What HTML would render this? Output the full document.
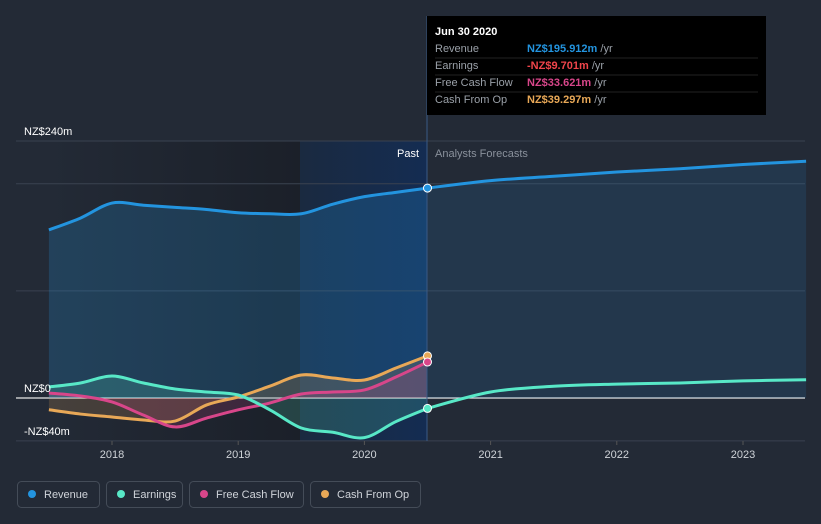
<!DOCTYPE html>
<html><head><meta charset="utf-8"><style>
html,body{margin:0;padding:0;background:#232a36;width:821px;height:524px;overflow:hidden;font-family:"Liberation Sans",sans-serif}
svg{position:absolute;left:0;top:0}
</style></head><body>
<svg width="821" height="524">
<defs>
<linearGradient id="pastBg" x1="0" x2="1" y1="0" y2="0"><stop offset="0" stop-color="#232a36"/><stop offset="1" stop-color="#1b2029"/></linearGradient>
<linearGradient id="hl" x1="0" x2="1"><stop offset="0" stop-color="#1a2a40"/><stop offset="1" stop-color="#142c52"/></linearGradient>
</defs>
<rect x="48" y="141" width="252" height="300" fill="url(#pastBg)"/>
<rect x="300" y="141" width="127" height="300" fill="url(#hl)"/>
<g id="grid"></g>
<g id="areas"></g>
<g id="lines"></g>
<line x1="427" x2="427" y1="16" y2="441" stroke="#3a5a86" stroke-width="1"/>
<text x="419" y="157" fill="#fff" font-size="11" text-anchor="end">Past</text>
<text x="435" y="157" fill="#8a919c" font-size="11">Analysts Forecasts</text>
<g id="ylab"></g><g id="xlab"></g><g id="dots"></g>
<g>
<rect x="427" y="16" width="339" height="99" fill="#000"/>
<text x="435" y="35" fill="#fff" font-size="11" font-weight="bold">Jun 30 2020</text>
<text x="435" y="52" fill="#9aa0a8" font-size="11">Revenue</text><text x="527" y="52" font-size="11" fill="#2394df" font-weight="bold">NZ$195.912m <tspan fill="#9aa0a8" font-weight="normal">/yr</tspan></text>
<line x1="435" x2="758" y1="58" y2="58" stroke="#222"/>
<text x="435" y="69" fill="#9aa0a8" font-size="11">Earnings</text><text x="527" y="69" font-size="11" fill="#f0454b" font-weight="bold">-NZ$9.701m <tspan fill="#9aa0a8" font-weight="normal">/yr</tspan></text>
<line x1="435" x2="758" y1="75" y2="75" stroke="#222"/>
<text x="435" y="86" fill="#9aa0a8" font-size="11">Free Cash Flow</text><text x="527" y="86" font-size="11" fill="#d8468a" font-weight="bold">NZ$33.621m <tspan fill="#9aa0a8" font-weight="normal">/yr</tspan></text>
<line x1="435" x2="758" y1="92" y2="92" stroke="#222"/>
<text x="435" y="103" fill="#9aa0a8" font-size="11">Cash From Op</text><text x="527" y="103" font-size="11" fill="#e8a857" font-weight="bold">NZ$39.297m <tspan fill="#9aa0a8" font-weight="normal">/yr</tspan></text>
</g>
<g id="legend"></g>
</svg>
<script>
const pastX=[2017.5,2017.75,2018,2018.25,2018.5,2018.75,2019,2019.25,2019.5,2019.75,2020,2020.25,2020.5];
const revenue=[157,168,182,180,178,176,173,172,172,181,188,192,196];
const earnings=[10.3,14,20.5,14,8.4,5.6,2.8,-11,-28,-32,-37,-22,-9.7];
const fcf=[4.7,1.9,-3.7,-16,-27,-18.7,-11,-4.7,3.7,5.6,7.5,19.6,33.6];
const cfo=[-11,-15,-17.7,-20.5,-21.5,-6.5,1,11,21.5,18.7,16.8,28,39.3];
const fcX=[2020.5,2021,2021.5,2022,2022.5,2023,2023.5];
const revenueFc=[196,203,207,211,214,218,221];
const earningsFc=[-9.7,5.6,11,13,14,16,17];
const yTicks=[240,0,-40];const yTickLabels=["NZ$240m","NZ$0","-NZ$40m"];
const gridVals=[240,200,100,0,-40];
const xTicks=[2018,2019,2020,2021,2022,2023];
const X=v=>112+(v-2018)*126.2, Y=v=>398-v*1.071;
const NS="http://www.w3.org/2000/svg";
function el(t,a,p){const e=document.createElementNS(NS,t);for(const k in a)e.setAttribute(k,a[k]);document.getElementById(p).appendChild(e);return e;}
function path(xs,ys){const P=xs.map((x,i)=>[X(x),Y(ys[i])]);let d="M"+P[0];for(let i=0;i<P.length-1;i++){const p0=P[i-1]||P[i],p1=P[i],p2=P[i+1],p3=P[i+2]||p2;const c1=[p1[0]+(p2[0]-p0[0])/6,p1[1]+(p2[1]-p0[1])/6],c2=[p2[0]-(p3[0]-p1[0])/6,p2[1]-(p3[1]-p1[1])/6];d+=" C"+c1+" "+c2+" "+p2;}return d;}
function area(xs,ys){return path(xs,ys)+` L${X(xs[xs.length-1])},${Y(0)} L${X(xs[0])},${Y(0)} Z`;}
gridVals.forEach(v=>{const l=el('line',{x1:16,x2:805,y1:Y(v),y2:Y(v),stroke:v===0?'#e6e6e6':'#3a4250','stroke-width':v===0?1.2:1},'grid');

});
yTicks.forEach((v,i)=>{const t=el('text',{x:24,y:Y(v)-6+(v===-40?0:0),fill:'#fff','font-size':11},'ylab');t.textContent=yTickLabels[i];

});
xTicks.forEach(v=>{const t=el('text',{x:X(v),y:458,fill:'#cfd3d8','font-size':11,'text-anchor':'middle'},'xlab');t.textContent=v;


const k=el('line',{x1:X(v),x2:X(v),y1:441,y2:445,stroke:'#555'},'xlab');

});
const A=[[pastX,revenue,'rgba(35,148,223,0.22)'],[fcX,revenueFc,'rgba(35,148,223,0.13)'],[pastX,cfo,'rgba(232,168,87,0.18)'],[pastX,fcf,'rgba(216,70,138,0.18)'],[pastX,earnings,'rgba(88,232,199,0.18)']];
A.forEach(a=>{const p=el('path',{d:area(a[0],a[1]),fill:a[2]},'areas');

});
const L=[[pastX,cfo,'#e8a857','cfo-line'],[pastX,fcf,'#d8468a','fcf-line'],[pastX,earnings,'#58e8c7','earnings-line'],[fcX,earningsFc,'#58e8c7','earnings-forecast-line'],[pastX,revenue,'#2394df','revenue-line'],[fcX,revenueFc,'#2394df','revenue-forecast-line']];
L.forEach(a=>{const p=el('path',{d:path(a[0],a[1]),fill:'none',stroke:a[2],'stroke-width':3},'lines');

});
const n=pastX.length-1;
[[revenue,'#2394df'],[cfo,'#e8a857'],[fcf,'#d8468a'],[earnings,'#58e8c7']].forEach(a=>{const c=el('circle',{cx:X(pastX[n]),cy:Y(a[0][n]),r:4,fill:a[1],stroke:'#fff','stroke-width':1},'dots');

});
const leg=[['Revenue','#2394df',17,82],['Earnings','#58e8c7',106,76],['Free Cash Flow','#d8468a',189,114],['Cash From Op','#e8a857',310,110]];
leg.forEach(l=>{const g=el('g',{},'legend');


g.id='lg'+l[2];
el('rect',{x:l[2]+0.5,y:481.5,width:l[3],height:26,rx:4,fill:'none',stroke:'#444c58'},g.id);
el('circle',{cx:l[2]+15,cy:494,r:4,fill:l[1]},g.id);
const t=el('text',{x:l[2]+27,y:498,fill:'#d0d4da','font-size':11},g.id);t.textContent=l[0];});
</script>
</body></html>
